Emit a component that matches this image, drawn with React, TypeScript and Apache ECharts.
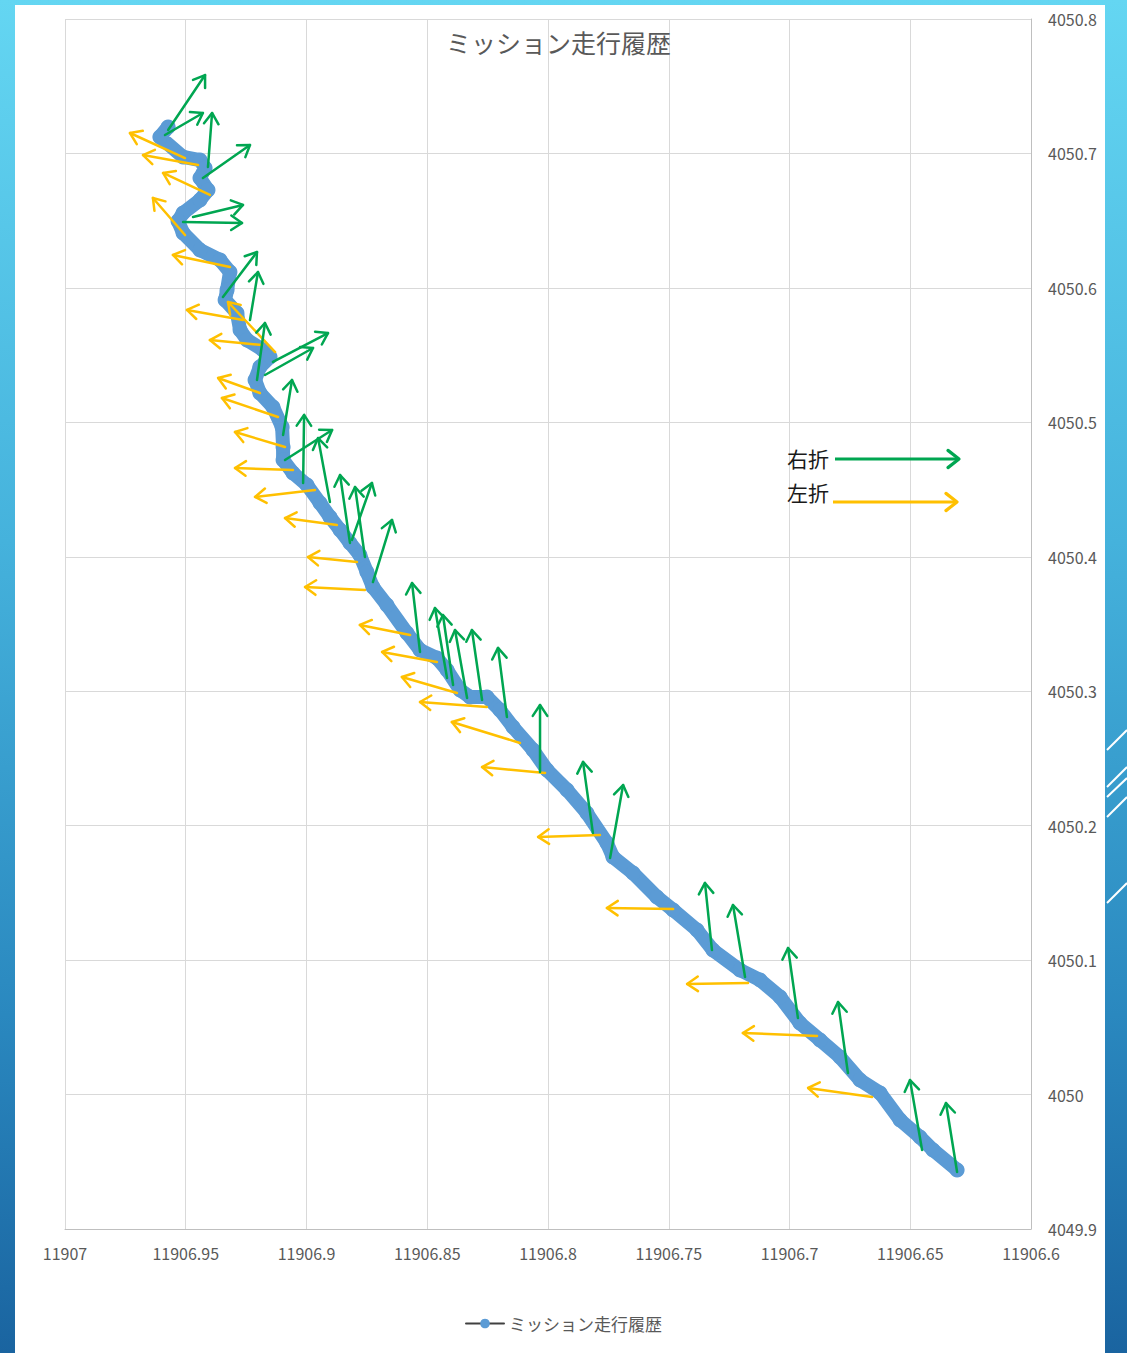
import React, { useEffect, useRef } from "react";
import * as echarts from "echarts";

const TITLE = "ミッション走行履歴";
const RIGHT_LABEL = "右折";
const LEFT_LABEL = "左折";

const X_MIN = 11906.6;
const X_MAX = 11907;
const X_INTERVAL = 0.05;
const Y_MIN = 4049.9;
const Y_MAX = 4050.8;
const Y_INTERVAL = 0.1;

// mission track (longitude-like x, latitude-like y)
const pathX = [
  11906.9573, 11906.9607, 11906.9511, 11906.9441, 11906.942, 11906.9441, 11906.9408, 11906.9441,
  11906.9511, 11906.9532, 11906.9511, 11906.9441, 11906.9358, 11906.9317, 11906.9329, 11906.9337,
  11906.9288, 11906.9275, 11906.9246, 11906.918, 11906.9151, 11906.9193, 11906.9213, 11906.9193,
  11906.9139, 11906.9101, 11906.9097, 11906.9097, 11906.9056, 11906.8998, 11906.8944, 11906.8903,
  11906.8861, 11906.882, 11906.8779, 11906.875, 11906.8725, 11906.8667, 11906.8584, 11906.853,
  11906.846, 11906.8418, 11906.8364, 11906.8323, 11906.8253, 11906.8199, 11906.8145, 11906.8062,
  11906.8004, 11906.7921, 11906.7839, 11906.7756, 11906.7731, 11906.7648, 11906.7549, 11906.7482,
  11906.7383, 11906.7317, 11906.7205, 11906.7122, 11906.7039, 11906.6957, 11906.6874, 11906.6791,
  11906.6708, 11906.6625, 11906.6542, 11906.646, 11906.6406, 11906.6306,
];
const pathY = [
  4050.7197, 4050.7122, 4050.6974, 4050.6951, 4050.6892, 4050.6817, 4050.6728, 4050.6654,
  4050.6557, 4050.6498, 4050.6408, 4050.6282, 4050.6207, 4050.6118, 4050.5984, 4050.591,
  4050.5813, 4050.5687, 4050.5612, 4050.5538, 4050.5486, 4050.5412, 4050.5315, 4050.5218,
  4050.5114, 4050.4965, 4050.4817, 4050.472, 4050.4623, 4050.4534, 4050.44, 4050.4296,
  4050.4199, 4050.4103, 4050.4013, 4050.3887, 4050.3775, 4050.3641, 4050.3433, 4050.3307,
  4050.3247, 4050.3158, 4050.3009, 4050.2957, 4050.2957, 4050.286, 4050.2734, 4050.2563,
  4050.2414, 4050.2265, 4050.2094, 4050.1871, 4050.1767, 4050.1648, 4050.1469, 4050.1373,
  4050.1224, 4050.1075, 4050.0926, 4050.0852, 4050.0726, 4050.0532, 4050.0406, 4050.0279,
  4050.0108, 4050.0012, 4049.9811, 4049.9684, 4049.9588, 4049.9439,
];

// right turns: [tailX, tailY, headX, headY]
const rightTurns = [
  [11906.9573, 4050.7174, 11906.942, 4050.7583],
  [11906.9586, 4050.7137, 11906.9429, 4050.7301],
  [11906.9408, 4050.6899, 11906.9391, 4050.7301],
  [11906.9429, 4050.6817, 11906.9234, 4050.7063],
  [11906.947, 4050.6527, 11906.9263, 4050.6617],
  [11906.9511, 4050.649, 11906.9267, 4050.6483],
  [11906.9346, 4050.5932, 11906.9205, 4050.6267],
  [11906.9234, 4050.5761, 11906.9201, 4050.6118],
  [11906.9205, 4050.5315, 11906.9172, 4050.5739],
  [11906.9139, 4050.5449, 11906.8911, 4050.5664],
  [11906.9172, 4050.5352, 11906.8973, 4050.5553],
  [11906.9097, 4050.4906, 11906.906, 4050.5315],
  [11906.9089, 4050.472, 11906.8894, 4050.4943],
  [11906.9014, 4050.4549, 11906.901, 4050.5055],
  [11906.8903, 4050.4407, 11906.8952, 4050.4883],
  [11906.882, 4050.4103, 11906.8861, 4050.4608],
  [11906.8758, 4050.3998, 11906.8799, 4050.4519],
  [11906.8812, 4050.4125, 11906.8729, 4050.4549],
  [11906.8725, 4050.3812, 11906.8646, 4050.4274],
  [11906.853, 4050.3292, 11906.8563, 4050.3805],
  [11906.8418, 4050.3098, 11906.8468, 4050.3619],
  [11906.8393, 4050.3046, 11906.8435, 4050.3567],
  [11906.8335, 4050.295, 11906.8385, 4050.3455],
  [11906.8273, 4050.2935, 11906.8315, 4050.3455],
  [11906.817, 4050.2808, 11906.8207, 4050.3322],
  [11906.8033, 4050.2399, 11906.8033, 4050.2897],
  [11906.7814, 4050.1945, 11906.7855, 4050.2474],
  [11906.7743, 4050.176, 11906.7689, 4050.2302],
  [11906.7321, 4050.1075, 11906.735, 4050.1574],
  [11906.7184, 4050.0874, 11906.7234, 4050.141],
  [11906.6965, 4050.0569, 11906.7006, 4050.109],
  [11906.6758, 4050.016, 11906.6799, 4050.0688],
  [11906.6451, 4049.9588, 11906.6501, 4050.0108],
  [11906.6306, 4049.9424, 11906.6352, 4049.9937],
];

// left turns: [tailX, tailY, headX, headY]
const leftTurns = [
  [11906.9503, 4050.6966, 11906.9731, 4050.7152],
  [11906.9449, 4050.6914, 11906.9677, 4050.6988],
  [11906.94, 4050.6691, 11906.9594, 4050.6855],
  [11906.9503, 4050.6393, 11906.9636, 4050.6669],
  [11906.9317, 4050.6155, 11906.9553, 4050.6245],
  [11906.9263, 4050.5761, 11906.9495, 4050.5836],
  [11906.913, 4050.5523, 11906.9325, 4050.5895],
  [11906.9184, 4050.5575, 11906.94, 4050.5612],
  [11906.9193, 4050.5218, 11906.9366, 4050.533],
  [11906.9118, 4050.504, 11906.935, 4050.5181],
  [11906.9089, 4050.4817, 11906.9296, 4050.4928],
  [11906.9056, 4050.4645, 11906.9296, 4050.466],
  [11906.8965, 4050.4497, 11906.9213, 4050.4445],
  [11906.8874, 4050.4236, 11906.9089, 4050.4288],
  [11906.8791, 4050.3961, 11906.8994, 4050.3998],
  [11906.8758, 4050.3753, 11906.9006, 4050.3775],
  [11906.8571, 4050.3418, 11906.8779, 4050.3493],
  [11906.846, 4050.3217, 11906.8687, 4050.3292],
  [11906.8377, 4050.2987, 11906.8605, 4050.3106],
  [11906.8253, 4050.2883, 11906.853, 4050.292],
  [11906.8116, 4050.2615, 11906.8398, 4050.2771],
  [11906.8012, 4050.2392, 11906.8273, 4050.2436],
  [11906.7785, 4050.1931, 11906.8041, 4050.1916],
  [11906.7482, 4050.138, 11906.7756, 4050.1388],
  [11906.7172, 4050.083, 11906.7424, 4050.0822],
  [11906.6886, 4050.0436, 11906.7193, 4050.0458],
  [11906.6658, 4049.9982, 11906.6923, 4050.0049],
];

const GREEN = "#00a651";
const ORANGE = "#ffc000";
const BLUE = "#5b9bd5";
const GREY_TEXT = "#595959";
const FONT = "'Noto Sans CJK JP', 'Noto Sans', sans-serif";

function chevron(p1: number[], ang: number, L: number, a: number) {
  return [
    [p1[0] - L * Math.cos(ang - a), p1[1] - L * Math.sin(ang - a)],
    p1,
    [p1[0] - L * Math.cos(ang + a), p1[1] - L * Math.sin(ang + a)],
  ];
}

function arrowRender(color: string) {
  return (_params: any, api: any) => {
    const p0 = api.coord([api.value(0), api.value(1)]);
    const p1 = api.coord([api.value(2), api.value(3)]);
    const ang = Math.atan2(p1[1] - p0[1], p1[0] - p0[0]);
    const pts = chevron(p1, ang, 13, (34 * Math.PI) / 180);
    return {
      type: "group",
      children: [
        {
          type: "line",
          shape: { x1: p0[0], y1: p0[1], x2: p1[0], y2: p1[1] },
          style: { stroke: color, lineWidth: 2.5, lineCap: "round" },
        },
        {
          type: "polyline",
          shape: { points: pts },
          style: { stroke: color, fill: null, lineWidth: 2.5, lineCap: "round", lineJoin: "round" },
        },
      ],
    };
  };
}

function legendArrow(x0: number, x1: number, y: number, color: string) {
  const pts = chevron([x1, y], 0, 14, (38 * Math.PI) / 180);
  return [
    { type: "line", z: 100, shape: { x1: x0, y1: y, x2: x1, y2: y }, style: { stroke: color, lineWidth: 3.2 } },
    { type: "polyline", z: 100, shape: { points: pts }, style: { stroke: color, fill: null, lineWidth: 3.2, lineCap: "round", lineJoin: "round" } },
  ];
}

export default function App() {
  const ref = useRef<HTMLDivElement>(null);
  useEffect(() => {
    if (!ref.current) return;
    const chart = echarts.init(ref.current, undefined, { renderer: "svg" });
    const fmt2 = (v: number) => String(+Number(v).toFixed(2));
    const fmt1 = (v: number) => String(+Number(v).toFixed(1));
    const deco = [
      [1107, 750, 1127, 730],
      [1107, 787, 1127, 767],
      [1107, 797, 1127, 778],
      [1107, 817, 1127, 797],
      [1107, 903, 1127, 883],
    ].map((d) => ({
      type: "line",
      z: 1,
      shape: { x1: d[0], y1: d[1], x2: d[2], y2: d[3] },
      style: { stroke: "#ffffff", lineWidth: 2 },
    }));
    chart.setOption({
      animation: false,
      backgroundColor: "transparent",
      textStyle: { fontFamily: FONT },
      title: {
        text: TITLE,
        left: 441,
        top: 24,
        textStyle: { fontSize: 25, color: GREY_TEXT, fontWeight: "normal", fontFamily: FONT },
      },
      legend: {
        data: [TITLE],
        top: 1310,
        left: "center",
        itemWidth: 38,
        itemHeight: 12,
        lineStyle: { color: "#404040", width: 2 },
        textStyle: { fontSize: 17, color: GREY_TEXT, fontFamily: FONT },
      },
      grid: { left: 65, right: 96, top: 19, bottom: 124, containLabel: false },
      xAxis: {
        type: "value",
        inverse: true,
        min: X_MIN,
        max: X_MAX,
        interval: X_INTERVAL,
        axisLine: { show: true, lineStyle: { color: "#bfbfbf", width: 1 } },
        axisTick: { show: false },
        splitLine: { show: true, lineStyle: { color: "#d9d9d9", width: 1 } },
        axisLabel: {
          formatter: fmt2,
          color: GREY_TEXT,
          fontSize: 16,
          margin: 16,
          showMinLabel: true,
          showMaxLabel: true,
          fontFamily: FONT,
        },
      },
      yAxis: {
        type: "value",
        position: "right",
        min: Y_MIN,
        max: Y_MAX,
        interval: Y_INTERVAL,
        axisLine: { show: true, lineStyle: { color: "#bfbfbf", width: 1 } },
        axisTick: { show: false },
        splitLine: { show: true, lineStyle: { color: "#d9d9d9", width: 1 } },
        axisLabel: {
          formatter: fmt1,
          color: GREY_TEXT,
          fontSize: 16,
          margin: 17,
          showMinLabel: true,
          showMaxLabel: true,
          fontFamily: FONT,
        },
      },
      graphic: [
        ...deco,
        {
          type: "text",
          z: 100,
          left: 787,
          top: 447,
          style: { text: RIGHT_LABEL, fill: "#1a1a1a", fontSize: 21, fontFamily: FONT },
        },
        ...legendArrow(835, 959, 459, GREEN),
        {
          type: "text",
          z: 100,
          left: 787,
          top: 481,
          style: { text: LEFT_LABEL, fill: "#1a1a1a", fontSize: 21, fontFamily: FONT },
        },
        ...legendArrow(833, 957, 502, ORANGE),
      ],
      series: [
        {
          name: TITLE,
          type: "line",
          data: pathX.map((x, i) => [x, pathY[i]]),
          symbol: "circle",
          symbolSize: 15,
          showAllSymbol: true,
          itemStyle: { color: BLUE },
          lineStyle: { color: BLUE, width: 14, cap: "round", join: "round" },
          z: 2,
        },
        {
          name: LEFT_LABEL,
          type: "custom",
          data: leftTurns,
          encode: { x: [0, 2], y: [1, 3] },
          renderItem: arrowRender(ORANGE),
          z: 5,
          clip: false,
        },
        {
          name: RIGHT_LABEL,
          type: "custom",
          data: rightTurns,
          encode: { x: [0, 2], y: [1, 3] },
          renderItem: arrowRender(GREEN),
          z: 6,
          clip: false,
        },
      ],
    });
    return () => chart.dispose();
  }, []);

  return (
    <div
      style={{
        position: "absolute",
        left: 0,
        top: 0,
        width: 1127,
        height: 1353,
        overflow: "hidden",
        background: "linear-gradient(180deg, #64d6f2 0%, #45b2dc 40%, #2a88bf 75%, #1a64a0 100%)",
      }}
    >
      <div
        style={{
          position: "absolute",
          left: 15,
          top: 5,
          width: 1090,
          height: 1348,
          background: "#ffffff",
        }}
      />
      <div ref={ref} style={{ position: "absolute", left: 0, top: 0, width: 1127, height: 1353 }} />
    </div>
  );
}
